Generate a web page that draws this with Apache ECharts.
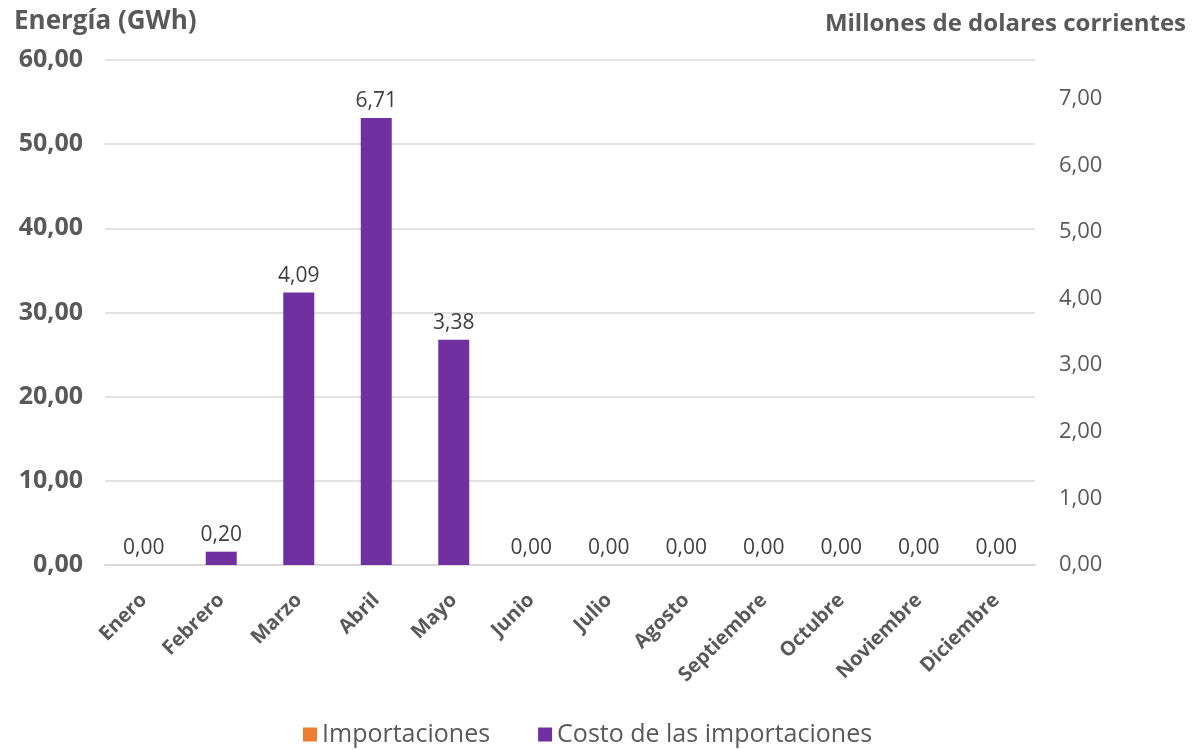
<!DOCTYPE html>
<html>
<head>
<meta charset="utf-8">
<script src="https://cdn.jsdelivr.net/npm/echarts@6/dist/echarts.min.js"></script>
<style>
  html, body { margin: 0; padding: 0; background: #fff; }
  #chart { width: 1194px; height: 750px; }
</style>
</head>
<body>
<div id="chart"></div>
<script>
// Meses del año
const meses = ['Enero', 'Febrero', 'Marzo', 'Abril', 'Mayo', 'Junio', 'Julio',
  'Agosto', 'Septiembre', 'Octubre', 'Noviembre', 'Diciembre'];

// Energía importada (GWh), eje izquierdo
const importaciones = [0, 0, 0, 0, 0, 0, 0, 0, 0, 0, 0, 0];

// Costo de las importaciones (millones de dólares corrientes), eje derecho
const costo = [0.00, 0.20, 4.09, 6.71, 3.38, 0.00, 0.00, 0.00, 0.00, 0.00, 0.00, 0.00];

const fmt = v => Number(v).toFixed(2).replace('.', ',');
const FONT = '"Open Sans", "DejaVu Sans", sans-serif';
const GRIS = '#595959';

const chart = echarts.init(document.getElementById('chart'));
chart.setOption({
  animation: false,
  textStyle: { fontFamily: FONT },
  grid: { left: 105, right: 159, top: 60, bottom: 185, containLabel: false },
  graphic: [
    { type: 'text', left: 14, top: 9,
      style: { text: 'Energía (GWh)', font: 'bold 26px ' + FONT, fill: GRIS } },
    { type: 'text', right: 8, top: 12,
      style: { text: 'Millones de dolares corrientes', font: 'bold 24px ' + FONT, fill: GRIS } }
  ],
  legend: {
    bottom: -2, left: 298,
    icon: 'rect', itemWidth: 14, itemHeight: 14, itemGap: 48,
    textStyle: { fontSize: 25, color: GRIS, fontFamily: FONT },
    data: ['Importaciones', 'Costo de las importaciones']
  },
  xAxis: {
    type: 'category',
    data: meses,
    axisTick: { show: false },
    axisLine: { lineStyle: { color: '#D9D9D9', width: 2 } },
    axisLabel: {
      rotate: 45, interval: 0, margin: 32,
      fontSize: 20, fontWeight: 'bold', color: GRIS, fontFamily: FONT
    }
  },
  yAxis: [
    {
      type: 'value', min: 0, max: 60, interval: 10, position: 'left',
      axisLine: { show: false }, axisTick: { show: false },
      splitLine: { lineStyle: { color: '#D9D9D9', width: 1.5 } },
      axisLabel: { formatter: fmt, fontSize: 25, fontWeight: 'bold', color: GRIS,
        margin: 22, fontFamily: FONT }
    },
    {
      type: 'value', min: 0, max: 7.58, interval: 1, position: 'right',
      axisLine: { show: false }, axisTick: { show: false }, splitLine: { show: false },
      axisLabel: {
        showMaxLabel: false,
        formatter: v => (Math.abs(v - Math.round(v)) < 1e-6 ? fmt(v) : ''),
        fontSize: 22, color: GRIS, margin: 24, fontFamily: FONT
      }
    }
  ],
  series: [
    {
      name: 'Importaciones', type: 'bar', yAxisIndex: 0,
      data: importaciones, barWidth: 31, barGap: '-100%',
      itemStyle: { color: '#ED7D31' }
    },
    {
      name: 'Costo de las importaciones', type: 'bar', yAxisIndex: 1,
      data: costo, barWidth: 31, barGap: '-100%',
      itemStyle: { color: '#7030A0' },
      label: {
        show: true, position: 'top', distance: 6,
        formatter: p => fmt(p.value),
        fontSize: 21, color: '#404040', fontFamily: FONT
      }
    }
  ]
});
</script>
</body>
</html>
